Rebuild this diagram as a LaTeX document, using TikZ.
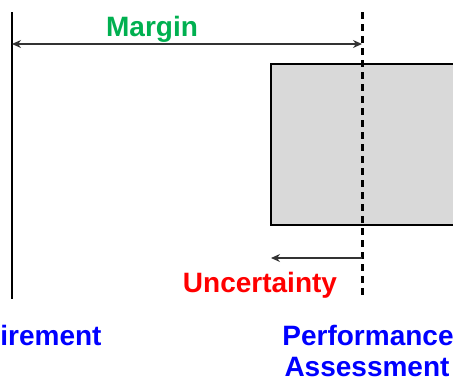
\documentclass[tikz,border=0pt]{standalone}
\usepackage{fontspec}
\setmainfont{Liberation Sans}
\usetikzlibrary{arrows.meta}
\definecolor{mgreen}{RGB}{0,176,80}
\definecolor{ublue}{RGB}{0,0,255}
\definecolor{ured}{RGB}{255,0,0}
\definecolor{boxgray}{RGB}{217,217,217}
\tikzset{
  lbl/.style={font=\fontsize{28}{32}\selectfont\bfseries, inner sep=0pt, anchor=base},
  dimarrow/.style={draw=black!80, line width=1.3pt, -{Stealth[length=9pt,width=8pt]}},
  dimarrows/.style={draw=black!80, line width=1.3pt, {Stealth[length=9pt,width=8pt]}-{Stealth[length=9pt,width=8pt]}},
  solidline/.style={line width=2.8pt},
  dashline/.style={line width=3pt, dash pattern=on 7pt off 5pt},
  boxstyle/.style={draw, line width=2.5pt, fill=boxgray}
}
\begin{document}
\begin{tikzpicture}[x=1pt,y=-1pt]
\useasboundingbox (0,0) rectangle (453,381);
\clip (0,0) rectangle (453,381);
% box
\draw[boxstyle] (271,64) rectangle (460,225);
% lines
\coordinate (reqtop) at (12,12);
\coordinate (reqbot) at (12,299);
\coordinate (pertop) at (362,12);
\coordinate (perbot) at (362,299);
\draw[solidline] (reqtop) -- (reqbot);
\draw[dashline] (pertop) -- (perbot);
% margin arrow
\coordinate (mL) at (12,44);
\coordinate (mR) at (362,44);
\draw[dimarrows] (mL) -- (mR);
\node[lbl, text=mgreen] (margin) at (152,36) {Margin};
% uncertainty arrow
\coordinate (uR) at (362,258);
\coordinate (uL) at (271,258);
\draw[dimarrow] (uR) -- (uL);
\node[lbl, text=ured] (unc) at (260,292) {Uncertainty};
% bottom labels
\node[lbl, text=ublue] (req) at (16,345) {Requirement};
\node[lbl, text=ublue] (perf) at (368,345) {Performance};
\node[lbl, text=ublue] (assess) at (367,376) {Assessment};
\end{tikzpicture}
\end{document}
